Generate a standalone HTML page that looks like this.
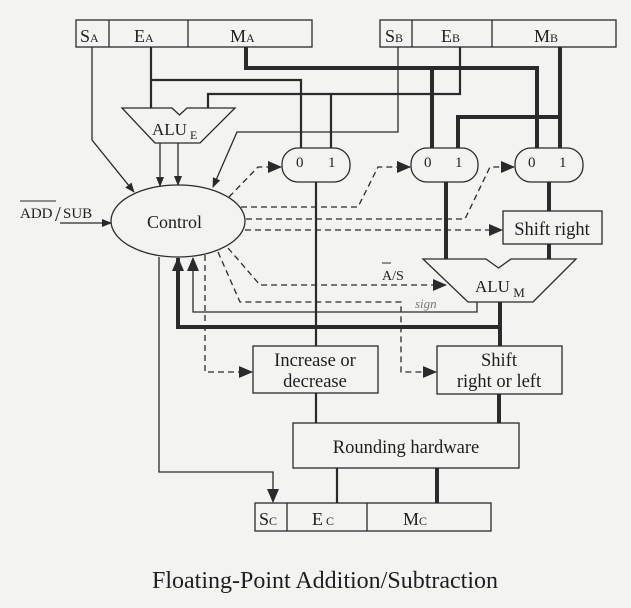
<!DOCTYPE html>
<html><head><meta charset="utf-8"><style>
html,body{margin:0;padding:0;background:#f3f3f1;}
svg{display:block;}
text{font-family:"Liberation Serif",serif;fill:#1e1e1e;}
</style></head><body>
<svg width="631" height="608" viewBox="0 0 631 608" xmlns="http://www.w3.org/2000/svg">
<defs>
<marker id="a" markerWidth="10" markerHeight="8" refX="9" refY="4" orient="auto" markerUnits="userSpaceOnUse"><path d="M0,0 L10,4 L0,8 Z" fill="#2a2a2a"/></marker>
<marker id="ab" markerWidth="14" markerHeight="12" refX="13" refY="6" orient="auto" markerUnits="userSpaceOnUse"><path d="M0,0 L14,6 L0,12 Z" fill="#2a2a2a"/></marker>
</defs>
<rect width="631" height="608" fill="#f3f3f1"/>
<g stroke="#2a2a2a" fill="none">
<rect x="76" y="20" width="236" height="27" stroke-width="1.3"/>
<line x1="109" y1="20" x2="109" y2="47" stroke-width="1.3"/>
<line x1="188" y1="20" x2="188" y2="47" stroke-width="1.3"/>
<rect x="380" y="20" width="236" height="27" stroke-width="1.3"/>
<line x1="412" y1="20" x2="412" y2="47" stroke-width="1.3"/>
<line x1="492" y1="20" x2="492" y2="47" stroke-width="1.3"/>
<rect x="255" y="503" width="236" height="28" stroke-width="1.3"/>
<line x1="287" y1="503" x2="287" y2="531" stroke-width="1.3"/>
<line x1="367" y1="503" x2="367" y2="531" stroke-width="1.3"/>

<path d="M122,108 L172,108 L179.5,115 L187,108 L235,108 L200,143 L155,143 Z" stroke-width="1.3" fill="#f3f3f1"/>
<path d="M423,259 L486,259 L498.5,268 L511,259 L576,259 L533,302 L468,302 Z" stroke-width="1.3" fill="#f3f3f1"/>

<rect x="282" y="148" width="68" height="34" rx="16" stroke-width="1.3"/>
<rect x="411" y="148" width="67" height="34" rx="16" stroke-width="1.3"/>
<rect x="515" y="148" width="68" height="34" rx="16" stroke-width="1.3"/>

<rect x="503" y="211" width="99" height="33" stroke-width="1.3"/>
<rect x="253" y="346" width="125" height="47" stroke-width="1.3"/>
<rect x="437" y="346" width="125" height="48" stroke-width="1.3"/>
<rect x="293" y="423" width="226" height="45" stroke-width="1.3"/>

<ellipse cx="178" cy="221" rx="67" ry="36" stroke-width="1.3"/>

<path d="M151,47 L151,108" stroke-width="2.2"/>
<path d="M151,80 L301,80 L301,148" stroke-width="2.2"/>
<path d="M460,47 L460,94 L208,94 L208,108" stroke-width="2.2"/>
<path d="M331,94 L331,148" stroke-width="2.2"/>

<path d="M246,47 L246,68 L537,68 L537,148" stroke-width="4"/>
<path d="M432,68 L432,148" stroke-width="4"/>
<path d="M560,47 L560,148" stroke-width="4"/>
<path d="M560,117 L458,117 L458,148" stroke-width="4"/>

<path d="M92,47 L92,140 L134,192" stroke-width="1.3" marker-end="url(#a)"/>
<path d="M398,47 L398,132 L237,132 L213,187" stroke-width="1.3" marker-end="url(#a)"/>
<path d="M160,143 L160,186" stroke-width="1.3" marker-end="url(#a)"/>
<path d="M178,143 L178,185" stroke-width="1.3" marker-end="url(#a)"/>

<path d="M60,223 L111,223" stroke-width="1.3" marker-end="url(#a)"/>

<path d="M316,182 L316,346" stroke-width="2.2"/>
<path d="M446,182 L446,259" stroke-width="4"/>
<path d="M549,182 L549,211" stroke-width="4"/>
<path d="M549,244 L549,259" stroke-width="4"/>
<path d="M500,302 L500,346" stroke-width="4"/>
<path d="M316,393 L316,423" stroke-width="2.2"/>
<path d="M499,394 L499,423" stroke-width="4"/>
<path d="M337,468 L337,503" stroke-width="2.2"/>
<path d="M437,468 L437,503" stroke-width="4"/>

<path d="M500,327 L178,327 L178,258" stroke-width="4" marker-end="url(#ab)"/>
<path d="M477,302 L477,312 L193,312 L193,258" stroke-width="1.3" marker-end="url(#ab)"/>

<path d="M159,257 L159,472 L273,472 L273,502" stroke-width="1.3" marker-end="url(#ab)"/>

<g stroke-dasharray="6,4" stroke-width="1.3">
<path d="M229,197 L258,167 L281,167" marker-end="url(#ab)"/>
<path d="M241,207 L358,207 L378,167 L410,167" marker-end="url(#ab)"/>
<path d="M246,219 L465,219 L490,167 L514,167" marker-end="url(#ab)"/>
<path d="M245,230 L502,230" marker-end="url(#ab)"/>
<path d="M228,248 L260,285 L446,285" marker-end="url(#ab)"/>
<path d="M218,252 L240,302 L401,302 L401,372 L436,372" marker-end="url(#ab)"/>
<path d="M205,255 L205,372 L252,372" marker-end="url(#ab)"/>
</g>
</g>

<line x1="20" y1="201" x2="56" y2="201" stroke="#2a2a2a" stroke-width="1"/>
<line x1="382" y1="263" x2="391" y2="263" stroke="#2a2a2a" stroke-width="1"/>

<g font-size="18">
<text x="80" y="42">S<tspan font-size="12">A</tspan></text>
<text x="134" y="42">E<tspan font-size="12">A</tspan></text>
<text x="230" y="42">M<tspan font-size="12">A</tspan></text>
<text x="385" y="42">S<tspan font-size="12">B</tspan></text>
<text x="441" y="42">E<tspan font-size="12">B</tspan></text>
<text x="534" y="42">M<tspan font-size="12">B</tspan></text>
<text x="259" y="525">S<tspan font-size="12">C</tspan></text>
<text x="312" y="525">E<tspan font-size="12"> C</tspan></text>
<text x="403" y="525">M<tspan font-size="12">C</tspan></text>
<text x="152" y="135" font-size="17">ALU<tspan font-size="12" dy="4"> E</tspan></text>
<text x="475" y="292" font-size="17">ALU<tspan font-size="13" dy="5"> M</tspan></text>
<text x="147" y="228">Control</text>
<text x="20" y="218" font-size="15">ADD</text>
<text x="55" y="221" font-size="21">/</text>
<text x="63" y="218" font-size="15">SUB</text>
<text x="382" y="280" font-size="14">A/S</text>
<text x="296" y="167" font-size="15">0</text>
<text x="328" y="167" font-size="15">1</text>
<text x="424" y="167" font-size="15">0</text>
<text x="455" y="167" font-size="15">1</text>
<text x="528" y="167" font-size="15">0</text>
<text x="559" y="167" font-size="15">1</text>
<text x="552" y="235" text-anchor="middle" font-size="18.5">Shift right</text>
<text x="315" y="366" text-anchor="middle" font-size="18.5">Increase or</text>
<text x="315" y="387" text-anchor="middle" font-size="18.5">decrease</text>
<text x="499" y="366" text-anchor="middle" font-size="18.5">Shift</text>
<text x="499" y="387" text-anchor="middle" font-size="18.5">right or left</text>
<text x="406" y="453" text-anchor="middle" font-size="18.5">Rounding hardware</text>
<text x="325" y="588" text-anchor="middle" font-size="24">Floating-Point Addition/Subtraction</text>
</g>
<text x="415" y="308" font-size="13" font-style="italic" style="fill:#777">sign</text>
</svg>
</body></html>
